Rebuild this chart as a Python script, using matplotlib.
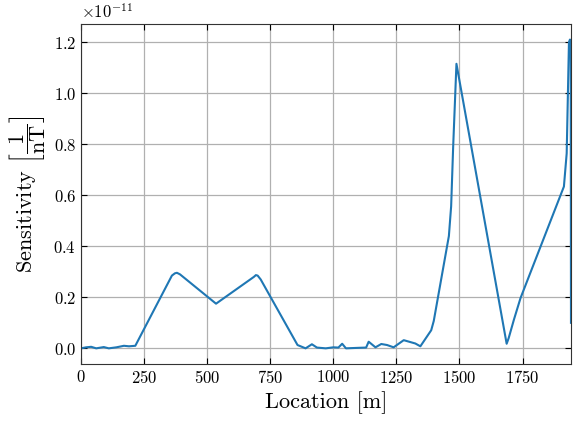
import matplotlib
matplotlib.use("Agg")
import matplotlib.pyplot as plt

plt.rcParams['font.family'] = 'serif'
plt.rcParams['font.serif'] = ['cmr10']
plt.rcParams['mathtext.fontset'] = 'cm'
plt.rcParams['axes.formatter.use_mathtext'] = True

# sensor position along the line [m] and sensitivity [1/nT] (scaled by 1e-11)
location = [0, 20, 40, 60, 90, 110, 140, 170, 190, 215,
            360, 372, 380, 392, 535, 685, 693, 700, 712,
            858, 890, 915, 935, 970, 1000, 1020, 1035, 1050, 1100, 1130,
            1140, 1167, 1190, 1213, 1239, 1279, 1325, 1345, 1388, 1398,
            1458, 1467, 1475, 1488, 1687, 1695, 1716, 1742,
            1914, 1925, 1934, 1938, 1941, 1942]
sensitivity = [0.0, 0.004, 0.006, 0.0, 0.005, 0.0, 0.004, 0.01, 0.008, 0.01,
               0.285, 0.294, 0.296, 0.29, 0.175, 0.28, 0.287, 0.285, 0.27,
               0.013, 0.0, 0.016, 0.003, 0.0, 0.004, 0.003, 0.018, 0.0, 0.002, 0.003,
               0.026, 0.004, 0.017, 0.013, 0.004, 0.032, 0.019, 0.008, 0.071, 0.107,
               0.44, 0.557, 0.79, 1.115, 0.018, 0.04, 0.113, 0.197,
               0.634, 0.764, 1.2, 1.21, 1.2, 0.1]

fig, ax = plt.subplots(figsize=(5.75, 4.23), dpi=100)
ax.plot(location, sensitivity, color='tab:blue', linewidth=1.5)

ax.set_xlim(0, location[-1])
ax.set_xticks([0, 250, 500, 750, 1000, 1250, 1500, 1750])
ax.set_yticks([0.0, 0.2, 0.4, 0.6, 0.8, 1.0, 1.2])
ax.set_xlabel('Location [m]', fontsize=16)
ax.set_ylabel(r'Sensitivity $\left[\dfrac{1}{\mathrm{nT}}\right]$', fontsize=16)
# common exponent of the y values
ax.text(0.0, 1.008, r'$\times10^{-11}$', transform=ax.transAxes,
        ha='left', va='bottom', fontsize=12)

ax.grid(True, color='#b0b0b0', linewidth=0.9)
ax.tick_params(direction='in', top=True, right=True, labelsize=12, length=4)
for sp in ax.spines.values():
    sp.set_color('#333333')

fig.subplots_adjust(left=0.141, right=0.993, top=0.943, bottom=0.14)
fig.savefig('out.png')
